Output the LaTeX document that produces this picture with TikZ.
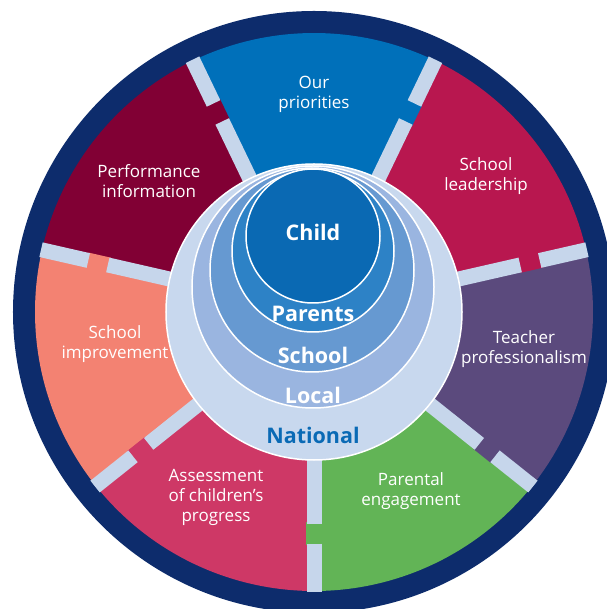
\documentclass[tikz,border=0pt]{standalone}
\usepackage{fontspec}
\setmainfont{Open Sans}
\definecolor{navy}{HTML}{0D2C6C}
\definecolor{cprio}{HTML}{0070BA}
\definecolor{clead}{HTML}{B8174F}
\definecolor{cteach}{HTML}{5B4A7D}
\definecolor{cparen}{HTML}{62B456}
\definecolor{cassess}{HTML}{CE3866}
\definecolor{cimprove}{HTML}{F38272}
\definecolor{cperf}{HTML}{810034}
\definecolor{cband}{HTML}{C6D6EB}
\definecolor{cchild}{HTML}{0A69B3}
\definecolor{cparents}{HTML}{2D82C6}
\definecolor{cschool}{HTML}{6699D1}
\definecolor{clocal}{HTML}{9AB5E0}
\definecolor{cnational}{HTML}{C8D8EE}
\definecolor{ctextnat}{HTML}{0A6AB5}
\tikzset{
  seclabel/.style={text=white, align=center, font=\fontsize{17}{20}\selectfont},
  ringlabel/.style={text=white, font=\fontsize{21.5}{24}\bfseries},
  bandseg/.style={draw=cband, line width=15pt},
  ringcircle/.style={draw=white, line width=1.5pt},
}
\begin{document}
\begin{tikzpicture}[x=1pt,y=1pt]
\useasboundingbox (-314,-297) rectangle (292,312);
\fill[navy] (0,0) circle (301);
% sectors: start angle, end angle, colour
\foreach \a/\c in {270/cparen, 321.4286/cteach, 372.8571/clead, 424.2857/cprio, 475.7143/cperf, 527.1429/cimprove, 578.5714/cassess}{
  \fill[\c] (0,0) -- (\a:279) arc[start angle=\a, end angle=\a+51.4286, radius=279] -- cycle;
}
% gap bands with breaks filled by the counter-clockwise neighbour
\foreach \a/\c in {270/cparen, 321.4286/cteach, 372.8571/clead, 424.2857/cprio, 475.7143/cperf, 527.1429/cimprove, 578.5714/cassess}{
  \draw[\c, line width=15.5pt] (\a:210) -- (\a:233);
  \draw[bandseg] (\a:140) -- (\a:211.5);
  \draw[bandseg] (\a:231.5) -- (\a:280);
}
% concentric circles
\node[circle, fill=cnational, ringcircle, minimum size=296pt, inner sep=0pt] (national) at (0,0) {};
\node[circle, fill=clocal, ringcircle, minimum size=242pt, inner sep=0pt] (local) at (-1,25) {};
\node[circle, fill=cschool, ringcircle, minimum size=204pt, inner sep=0pt] (school) at (-2,42) {};
\node[circle, fill=cparents, ringcircle, minimum size=162pt, inner sep=0pt] (parents) at (-1,61) {};
\node[circle, fill=cchild, ringcircle, minimum size=134pt, inner sep=0pt] (child) at (-1,76) {};
% ring labels
\node[ringlabel] (tchild) at (-1,80) {Child};
\node[ringlabel] (tparents) at (-1,-2) {Parents};
\node[ringlabel] (tschool) at (-1,-43) {School};
\node[ringlabel] (tlocal) at (-1,-83) {Local};
\node[ringlabel, text=ctextnat] (tnational) at (-1,-123) {National};
% sector labels
\node[seclabel] (lprio) at (0,218) {Our\\priorities};
\node[seclabel] (llead) at (172,136) {School\\leadership};
\node[seclabel] (lteach) at (210,-37) {Teacher\\professionalism};
\node[seclabel] (lparen) at (97,-179) {Parental\\engagement};
\node[seclabel] (lassess) at (-98,-185) {Assessment\\of children’s\\progress};
\node[seclabel] (limprove) at (-199,-32) {School\\improvement};
\node[seclabel] (lperf) at (-165,131) {Performance\\information};
\end{tikzpicture}
\end{document}
